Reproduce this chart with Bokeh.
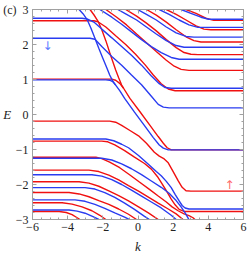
from bokeh.plotting import figure
from bokeh.models import Range1d, LinearAxis, SingleIntervalTicker, Label
from bokeh.embed import file_html
from bokeh.resources import INLINE

# ---------------- data (k, E) ----------------
x_ticks = [-6, -4, -2, 0, 2, 4, 6]
x_tick_labels = ["\u22126", "\u22124", "\u22122", "0", "2", "4", "6"]
y_ticks = [-3, -2, -1, 0, 1, 2, 3]
y_tick_labels = ["\u22123", "\u22122", "\u22121", "0", "1", "2", "(c)\u20023"]

# spin-down (blue) branches
b_chain_k = [-3.46, -3.35, -3.13, -2.90, -2.68, -2.45, -2.23, -2.00, -1.77, -1.61, -1.44, -1.27]
b_chain_E = [3.11, 3.00, 2.88, 2.72, 2.47, 2.18, 1.89, 1.61, 1.33, 1.13, 0.96, 0.84]
b1_k = [-6, -1.83, -1.61, -1.44, -1.27, -1.04, -0.76, -0.20, 0.37, 0.87, 1.21, 1.44, 1.72, 6]
b1_E = [0.99, 0.99, 0.98, 0.94, 0.84, 0.68, 0.46, 0.07, -0.32, -0.66, -0.87, -0.96, -1.01, -1.01]
b2_k = [-6, -3.18, -2.90, -2.51, -2.06, -1.49, -0.93, -0.37, 0.20, 0.76, 1.21, 1.55, 1.89, 6]
b2_E = [2.75, 2.75, 2.73, 2.64, 2.44, 2.19, 1.94, 1.69, 1.41, 1.10, 0.88, 0.77, 0.75, 0.75]
b3_k = [-6, -2.73, -2.45, -2.06, -1.49, -0.93, -0.37, 0.20, 0.76, 1.15, 1.44, 1.77, 6]
b3_E = [2.18, 2.18, 2.15, 1.94, 1.66, 1.41, 1.13, 0.85, 0.52, 0.29, 0.21, 0.19, 0.19]
b4_k = [-2.51, -2.17, -1.49, -0.93, -0.37, 0.20, 0.76, 1.32, 1.89, 2.34, 6]
b4_E = [3.09, 3.00, 2.78, 2.58, 2.36, 2.14, 1.94, 1.77, 1.63, 1.58, 1.58]
b5_k = [-1.49, -1.15, -0.65, -0.08, 0.48, 1.04, 1.61, 2.17, 2.62, 6]
b5_E = [3.09, 3.00, 2.86, 2.70, 2.50, 2.30, 2.11, 1.97, 1.92, 1.92]
b6_k = [-0.37, -0.03, 0.48, 1.04, 1.61, 2.17, 2.73, 3.18, 6]
b6_E = [3.09, 3.00, 2.86, 2.70, 2.50, 2.33, 2.23, 2.21, 2.21]
b7_k = [0.87, 1.21, 1.77, 2.34, 2.90, 3.41, 6]
b7_E = [3.09, 3.00, 2.86, 2.70, 2.56, 2.49, 2.49]
b8_k = [2.11, 2.45, 3.01, 3.58, 4.03, 6]
b8_E = [3.09, 3.00, 2.89, 2.78, 2.72, 2.72]
b9_k = [-6, -1.83, -1.38, -0.93, -0.54, 0.03, 0.59, 1.04, 1.32, 1.61, 1.89, 2.11, 2.34, 2.51, 2.68, 2.90, 6]
b9_E = [-0.70, -0.70, -0.75, -0.85, -0.95, -1.17, -1.42, -1.63, -1.75, -1.91, -2.09, -2.28, -2.47, -2.60, -2.67, -2.70, -2.70]
b10_k = [-6, -2.06, -1.49, -0.93, -0.37, 0.20, 0.76, 1.32, 1.77, 2.17, 2.45, 2.68, 2.85, 2.96, 3.07]
b10_E = [-1.25, -1.25, -1.30, -1.41, -1.55, -1.72, -1.90, -2.08, -2.25, -2.46, -2.64, -2.81, -2.96, -3.06, -3.18]
b11_k = [-6, -2.62, -2.06, -1.49, -0.93, -0.37, 0.20, 0.76, 1.32, 1.89, 2.17, 2.34]
b11_E = [-1.72, -1.72, -1.76, -1.86, -2.00, -2.16, -2.33, -2.50, -2.67, -2.88, -3.00, -3.09]
b12_k = [-6, -3.01, -2.45, -1.89, -1.32, -0.76, -0.20, 0.37, 0.65, 0.82]
b12_E = [-2.09, -2.09, -2.13, -2.23, -2.37, -2.53, -2.71, -2.91, -3.00, -3.07]
b13_k = [-6, -3.58, -3.01, -2.45, -1.89, -1.32, -0.76, -0.42, -0.25]
b13_E = [-2.44, -2.44, -2.48, -2.57, -2.68, -2.81, -2.93, -3.02, -3.06]
b14_k = [-6, -3.92, -3.46, -3.01, -2.56, -2.23, -2.06]
b14_E = [-2.73, -2.73, -2.76, -2.82, -2.92, -3.00, -3.04]

# spin-up (red) branches
r_chain_k = [-2.85, -2.73, -2.51, -2.28, -2.06, -1.83, -1.61, -1.44, -1.27, -1.10, -0.93, -0.82]
r_chain_E = [3.11, 3.00, 2.85, 2.67, 2.42, 2.11, 1.77, 1.52, 1.27, 1.05, 0.84, 0.75]
r1_k = [-6, -1.49, -1.27, -1.04, -0.82, -0.46, 0.08, 0.65, 1.15, 1.44, 1.66, 1.89, 6]
r1_E = [1.01, 1.01, 0.98, 0.89, 0.75, 0.46, 0.10, -0.29, -0.63, -0.82, -0.95, -1.01, -1.01]
r2_k = [-6, -2.51, -2.28, -1.83, -1.27, -0.70, -0.14, 0.42, 0.87, 1.32, 1.72, 2.11, 6]
r2_E = [2.68, 2.68, 2.65, 2.50, 2.25, 2.00, 1.72, 1.41, 1.13, 0.88, 0.73, 0.68, 0.68]
r3_k = [-2.17, -1.83, -1.21, -0.65, -0.08, 0.48, 1.04, 1.61, 2.06, 2.45, 2.90, 6]
r3_E = [3.11, 3.00, 2.78, 2.56, 2.30, 2.05, 1.80, 1.55, 1.38, 1.29, 1.26, 1.26]
r4_k = [-1.04, -0.70, -0.08, 0.48, 1.04, 1.61, 2.17, 2.62, 3.01, 3.41, 6]
r4_E = [3.11, 3.00, 2.81, 2.61, 2.39, 2.14, 1.91, 1.77, 1.72, 1.71, 1.71]
r5_k = [0.14, 0.48, 1.04, 1.61, 2.17, 2.73, 3.18, 3.58, 6]
r5_E = [3.11, 3.00, 2.84, 2.64, 2.42, 2.22, 2.11, 2.07, 2.07]
r6_k = [1.27, 1.61, 2.17, 2.73, 3.30, 3.75, 4.14, 6]
r6_E = [3.11, 3.00, 2.86, 2.70, 2.53, 2.44, 2.42, 2.42]
r7_k = [2.39, 2.73, 3.30, 3.86, 4.31, 6]
r7_E = [3.11, 3.00, 2.89, 2.75, 2.69, 2.69]
r8_k = [-6, -1.61, -1.27, -0.93, -0.48, 0.03, 0.48, 0.93, 1.21, 1.49, 1.72, 2.00, 2.28, 2.51, 2.73, 3.01, 6]
r8_E = [-0.19, -0.19, -0.22, -0.31, -0.45, -0.61, -0.82, -1.08, -1.19, -1.27, -1.38, -1.63, -1.89, -2.08, -2.18, -2.19, -2.19]
r9_k = [-6, -2.06, -1.72, -1.32, -0.76, -0.20, 0.37, 0.76, 1.10, 1.38, 1.66, 1.89, 2.11, 2.34, 2.62, 3.01, 6]
r9_E = [-0.76, -0.76, -0.78, -0.87, -1.03, -1.22, -1.40, -1.56, -1.77, -1.99, -2.22, -2.42, -2.58, -2.71, -2.77, -2.77, -2.77]
r10_k = [-6, -2.39, -2.06, -1.61, -1.04, -0.48, 0.08, 0.65, 1.15, 1.61, 1.94, 2.28, 2.62, 2.90, 3.13, 3.30, 3.41]
r10_E = [-1.22, -1.22, -1.26, -1.36, -1.52, -1.72, -1.93, -2.14, -2.33, -2.50, -2.64, -2.75, -2.84, -2.89, -2.95, -3.03, -3.17]
r11_k = [-6, -2.79, -2.23, -1.66, -1.10, -0.54, 0.03, 0.59, 1.15, 1.72, 2.17, 2.56, 2.73]
r11_E = [-1.59, -1.59, -1.63, -1.73, -1.87, -2.03, -2.19, -2.36, -2.53, -2.70, -2.84, -3.00, -3.09]
r12_k = [-6, -3.35, -2.79, -2.23, -1.66, -1.10, -0.54, 0.03, 0.59, 1.15, 1.32]
r12_E = [-1.92, -1.92, -1.96, -2.05, -2.18, -2.32, -2.47, -2.64, -2.81, -3.00, -3.06]
r13_k = [-6, -3.92, -3.35, -2.79, -2.23, -1.66, -1.10, -0.54, -0.08, 0.08]
r13_E = [-2.23, -2.23, -2.27, -2.35, -2.46, -2.57, -2.70, -2.85, -3.00, -3.06]
r14_k = [-6, -4.31, -3.75, -3.18, -2.62, -2.17, -1.83, -1.66]
r14_E = [-2.52, -2.52, -2.56, -2.64, -2.75, -2.88, -3.00, -3.06]
r15_k = [-6, -4.48, -4.08, -3.75, -3.46, -3.30, -3.18]
r15_E = [-2.77, -2.77, -2.80, -2.86, -2.95, -3.00, -3.06]

blue_ks = [b_chain_k, b1_k, b2_k, b3_k, b4_k, b5_k, b6_k, b7_k, b8_k, b9_k, b10_k, b11_k, b12_k, b13_k, b14_k]
blue_Es = [b_chain_E, b1_E, b2_E, b3_E, b4_E, b5_E, b6_E, b7_E, b8_E, b9_E, b10_E, b11_E, b12_E, b13_E, b14_E]
red_ks = [r_chain_k, r1_k, r2_k, r3_k, r4_k, r5_k, r6_k, r7_k, r8_k, r9_k, r10_k, r11_k, r12_k, r13_k, r14_k, r15_k]
red_Es = [r_chain_E, r1_E, r2_E, r3_E, r4_E, r5_E, r6_E, r7_E, r8_E, r9_E, r10_E, r11_E, r12_E, r13_E, r14_E, r15_E]

# ---------------- figure ----------------
FRAME = "#a0a0a0"
SERIF = "Liberation Serif"
TXT = "#222222"

p = figure(width=249, height=256, x_range=Range1d(-6, 6), y_range=Range1d(-3, 3),
           output_backend="svg", toolbar_location=None,
           min_border_left=30, min_border_right=6, min_border_top=9, min_border_bottom=32)
p.background_fill_color = "white"
p.border_fill_color = "white"
p.outline_line_color = FRAME
p.xgrid.visible = False
p.ygrid.visible = False

def style_axis(ax, ticker, labels, show):
    ax.ticker = ticker
    ax.axis_line_color = FRAME
    ax.major_tick_line_color = FRAME
    ax.minor_tick_line_color = FRAME
    ax.major_tick_in = 4
    ax.major_tick_out = 0
    ax.minor_tick_in = 2
    ax.minor_tick_out = 0
    if show:
        ax.major_label_overrides = labels
        ax.major_label_text_font = SERIF
        ax.major_label_text_font_size = "12px"
        ax.major_label_text_color = TXT
    else:
        ax.major_label_text_font_size = "1px"
        ax.major_label_text_alpha = 0
        ax.major_label_standoff = 0

xt = SingleIntervalTicker(interval=2, num_minor_ticks=4)
yt = SingleIntervalTicker(interval=1, num_minor_ticks=5)
style_axis(p.xaxis[0], xt, dict(zip(x_ticks, x_tick_labels)), True)
style_axis(p.yaxis[0], yt, dict(zip(y_ticks, y_tick_labels)), True)
p.xaxis[0].major_label_standoff = 3
p.yaxis[0].major_label_standoff = 4

# axis titles
p.xaxis[0].axis_label = "k"
p.xaxis[0].axis_label_text_font = SERIF
p.xaxis[0].axis_label_text_font_style = "italic"
p.xaxis[0].axis_label_text_font_size = "13px"
p.xaxis[0].axis_label_text_color = TXT
p.xaxis[0].axis_label_standoff = 5

p.yaxis[0].axis_label = "E"
p.yaxis[0].axis_label_orientation = "horizontal"
p.yaxis[0].axis_label_text_font = SERIF
p.yaxis[0].axis_label_text_font_style = "italic"
p.yaxis[0].axis_label_text_font_size = "13px"
p.yaxis[0].axis_label_text_color = TXT
p.yaxis[0].axis_label_standoff = -11

top = LinearAxis()
right = LinearAxis()
style_axis(top, SingleIntervalTicker(interval=2, num_minor_ticks=4), {}, False)
style_axis(right, SingleIntervalTicker(interval=1, num_minor_ticks=5), {}, False)
p.add_layout(top, "above")
p.add_layout(right, "right")

p.multi_line(red_ks, red_Es, line_color="#f01010", line_width=1.4)
p.multi_line(blue_ks, blue_Es, line_color="#2a3cf0", line_width=1.4)

# spin arrows
p.add_layout(Label(x=-5.15, y=1.95, text="\u2193", text_color="#5a78ff", text_font="DejaVu Sans",
                   text_font_size="12px", text_align="center", text_baseline="middle"))
p.add_layout(Label(x=5.2, y=-2.0, text="\u2191", text_color="#ff6a6a", text_font="DejaVu Sans",
                   text_font_size="12px", text_align="center", text_baseline="middle"))

open("out.html", "w").write(file_html(p, INLINE))
